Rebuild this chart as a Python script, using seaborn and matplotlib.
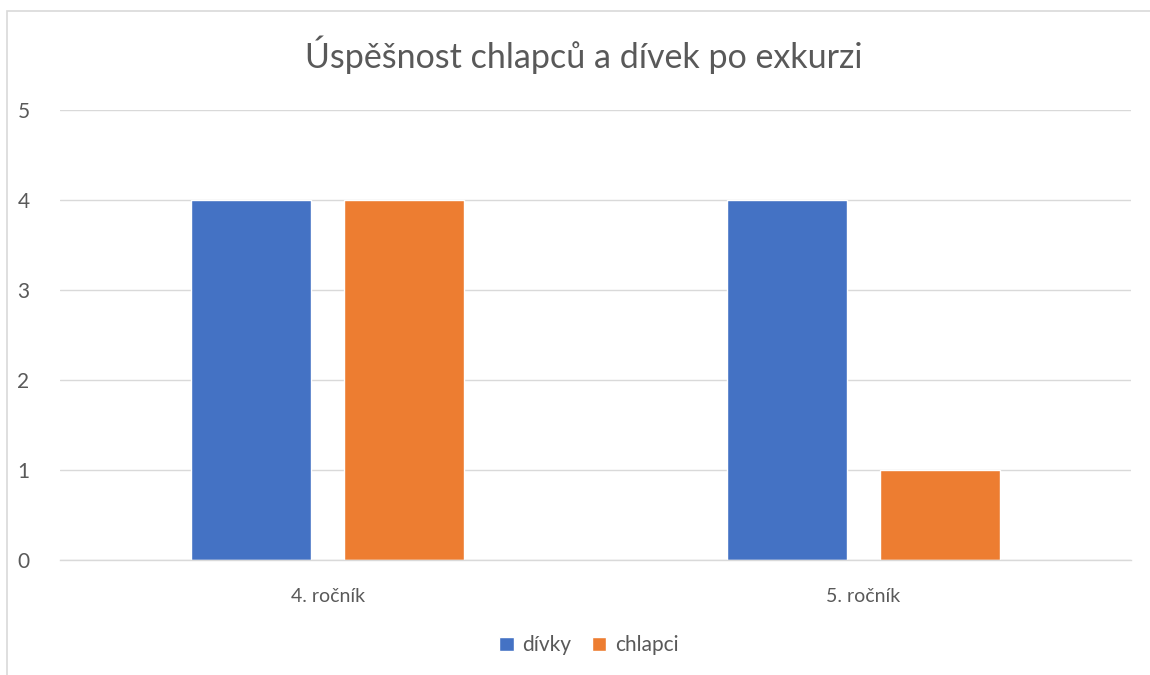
import matplotlib
matplotlib.use("Agg")
import matplotlib.pyplot as plt
import seaborn as sns
import pandas as pd
from matplotlib.patches import Rectangle

categories = ["4. ročník", "5. ročník"]
divky = [4, 4]
chlapci = [4, 1]
series_names = ["dívky", "chlapci"]
title = "Úspěšnost chlapců a dívek po exkurzi"

df = pd.DataFrame({
    "cat": categories * 2,
    "val": divky + chlapci,
    "series": [series_names[0]] * 2 + [series_names[1]] * 2,
})

sns.set_theme(style="white")
plt.rcParams["font.family"] = ["Lato", "DejaVu Sans"]

fig = plt.figure(figsize=(11.5, 6.75), dpi=100)
ax = fig.add_axes([0.0522, 0.1704, 0.9313, 0.6666])

sns.barplot(data=df, x="cat", y="val", hue="series", order=categories,
            hue_order=series_names, palette=["#4472C4", "#ED7D31"],
            width=0.571, gap=0.216, saturation=1, ax=ax, legend=True)

ax.set_ylim(0, 5)
ax.set_xlim(-0.5, 1.5)
ax.set_yticks(range(0, 6))
ax.yaxis.grid(True, color="#d9d9d9", linewidth=1)
ax.set_axisbelow(True)
for s in ["left", "right", "top"]:
    ax.spines[s].set_visible(False)
ax.spines["bottom"].set_color("#d9d9d9")
ax.spines["bottom"].set_linewidth(1)
ax.tick_params(axis="y", length=0, pad=22, labelsize=15, labelcolor="#595959")
ax.tick_params(axis="x", length=0, pad=20, labelsize=14, labelcolor="#595959")
ax.set_xlabel("")
ax.set_ylabel("")

fig.suptitle(title, x=0.508, y=0.947, fontsize=24.5, color="#595959")

leg = ax.legend(loc="center", bbox_to_anchor=(0.4935, -0.19), ncol=2,
                frameon=False, fontsize=15, handlelength=0.7, handleheight=0.7,
                handletextpad=0.4, columnspacing=1.0)
for t in leg.get_texts():
    t.set_color("#595959")

fig.patches.append(Rectangle((7 / 1150, -0.1), 1.2, 1 - 11 / 675 + 0.1,
                             transform=fig.transFigure, fill=False,
                             edgecolor="#d9d9d9", linewidth=1.2))

fig.savefig("out.png", dpi=100, facecolor="white")
